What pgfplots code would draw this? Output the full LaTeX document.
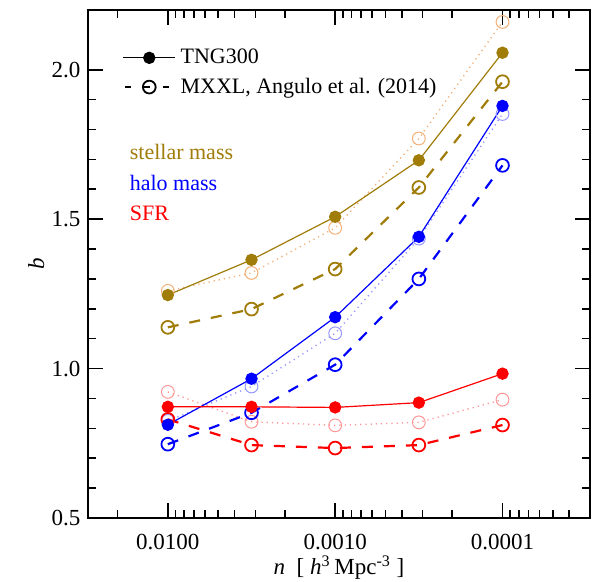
\documentclass[border=0pt]{standalone}
\usepackage{fontspec}
\setmainfont{Liberation Serif}
\usepackage{pgfplots}
\pgfplotsset{compat=1.18}
\definecolor{stel}{RGB}{160,124,8}
\definecolor{stellight}{RGB}{242,176,120}
\definecolor{halo}{RGB}{0,0,255}
\definecolor{halolight}{RGB}{150,150,255}
\definecolor{sfr}{RGB}{255,0,0}
\definecolor{sfrlight}{RGB}{255,150,150}

% n values: 0.01, 0.00316, 0.001, 0.000316, 0.0001
\pgfplotstableread{
n        tng    mxxl   light
0.01     1.246  1.138  1.260
0.003162 1.364  1.199  1.320
0.001    1.508  1.333  1.471
0.0003162 1.697 1.606  1.770
0.0001   2.057  1.960  2.160
}\stellar
\pgfplotstableread{
n        tng    mxxl   light
0.01     0.812  0.747  0.825
0.003162 0.966  0.852  0.940
0.001    1.172  1.013  1.118
0.0003162 1.441 1.300  1.435
0.0001   1.879  1.680  1.852
}\halo
\pgfplotstableread{
n        tng    mxxl   light
0.01     0.872  0.830  0.922
0.003162 0.872  0.744  0.822
0.001    0.870  0.734  0.810
0.0003162 0.886 0.744  0.820
0.0001   0.983  0.811  0.896
}\sfr

\pgfplotsset{
  tng/.style={solid, line width=0.6pt, mark=*, mark size=2.8pt},
  mxxl/.style={dash pattern=on 5.5pt off 5.5pt, line width=1.1pt, mark=o, mark size=3.2pt, mark options={solid, line width=0.9pt}},
  lite/.style={dash pattern=on 0.6pt off 2pt, line width=0.7pt, mark=o, mark size=3.2pt, mark options={solid, line width=0.5pt}},
}

\begin{document}
\fontsize{11}{13}\selectfont
\begin{tikzpicture}
\begin{axis}[
  scale only axis, width=251pt, height=254pt,
  xmode=log, x dir=reverse,
  xmin=3e-5, xmax=0.03, ymin=0.5, ymax=2.2,
  xtick={0.01,0.001,0.0001}, xticklabels={0.0100,0.0010,0.0001},
  minor xtick={0.02,0.009,0.008,0.007,0.006,0.005,0.004,0.003,0.002,
    0.0009,0.0008,0.0007,0.0006,0.0005,0.0004,0.0003,0.0002,
    0.00009,0.00008,0.00007,0.00006,0.00005,0.00004},
  ytick={0.5,1.0,1.5,2.0}, minor y tick num=4,
  yticklabel style={/pgf/number format/.cd, fixed, fixed zerofill, precision=1, assume math mode=true},
  tick label style={font=\fontsize{11.5}{13}\selectfont},
  xticklabel style={yshift=-4pt},
  tick align=inside,
  major tick length=7.5pt, minor tick length=4pt,
  axis line style={line width=1pt},
  every tick/.style={black, line width=0.8pt},
  xlabel={\textit{n}\ \ [ \textit{h}\textsuperscript{3}\,Mpc\textsuperscript{-3} ]},
  ylabel={\textit{b}},
  label style={font=\fontsize{11.5}{13}\selectfont},
  xlabel style={yshift=4.5pt},
  ylabel style={yshift=-4pt},
  clip=false,
  legend cell align=left,
  legend style={draw=none, fill=none, at={(rel axis cs:0.055,0.94)}, anchor=north west,
    row sep=1.5pt, font=\fontsize{11}{13}\selectfont},
  legend image code/.code={\draw[mark repeat=2, mark phase=2, #1] plot coordinates {(0cm,0cm) (0.46cm,0cm) (0.92cm,0cm)};},
]
\addlegendimage{black, tng}
\addlegendentry{TNG300}
\addlegendimage{black, mxxl, dash pattern=on 3pt off 6.5pt, dash phase=-1pt}
\addlegendentry{MXXL, Angulo et al. (2014)}

\addplot[stellight, lite, forget plot] table[x=n, y=light] {\stellar};
\addplot[halolight, lite, forget plot] table[x=n, y=light] {\halo};
\addplot[sfrlight, lite, forget plot] table[x=n, y=light] {\sfr};

\addplot[stel, mxxl, forget plot] table[x=n, y=mxxl] {\stellar};
\addplot[halo, mxxl, forget plot] table[x=n, y=mxxl] {\halo};
\addplot[sfr, mxxl, forget plot] table[x=n, y=mxxl] {\sfr};

\addplot[stel, tng, forget plot] table[x=n, y=tng] {\stellar};
\addplot[halo, tng, forget plot] table[x=n, y=tng] {\halo};
\addplot[sfr, tng, forget plot] table[x=n, y=tng] {\sfr};

\node[anchor=west, text=stel] at (rel axis cs:0.068,0.72) {stellar mass};
\node[anchor=west, text=halo] at (rel axis cs:0.068,0.659) {halo mass};
\node[anchor=west, text=sfr] at (rel axis cs:0.068,0.600) {SFR};
\end{axis}
\pgfresetboundingbox
\path (current axis.south west) ++(-44pt,-32pt) coordinate (bl);
\path (current axis.north east) ++(3pt,5pt) coordinate (tr);
\path[use as bounding box] (bl) rectangle (tr);
\end{tikzpicture}
\end{document}
